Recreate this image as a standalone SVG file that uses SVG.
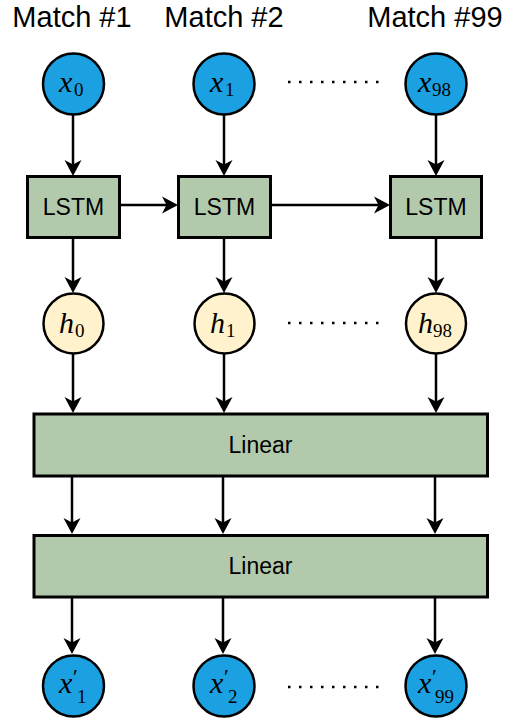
<svg xmlns="http://www.w3.org/2000/svg" width="507" height="722" viewBox="0 0 507 722">
  <style>
    .title { font-family: "Liberation Sans", Arial, sans-serif; font-size: 29px; fill: #000; text-anchor: middle; }
    .lbl { font-family: "Liberation Sans", Arial, sans-serif; font-size: 23px; fill: #000; text-anchor: middle; }
    .mv { font-family: "Liberation Serif", "Times New Roman", serif; font-size: 30px; font-style: italic; fill: #000; }
    .ms { font-family: "Liberation Serif", "Times New Roman", serif; font-size: 19px; fill: #000; }
    .pr { font-family: "Liberation Serif", "Times New Roman", serif; font-size: 22px; fill: #000; }
    .inp { fill: #1ba1e2; stroke: #000; stroke-width: 2.5; }
    .hid { fill: #fff2cc; stroke: #000; stroke-width: 2.5; }
    .box { fill: #b2caab; stroke: #000; stroke-width: 3; }
    .edge { stroke: #000; stroke-width: 2.5; fill: none; marker-end: url(#arrow); }
    .dots { stroke: #000; stroke-width: 2.5; stroke-dasharray: 2.5 8.5; fill: none; }
  </style>
  <defs>
    <marker id="arrow" markerUnits="userSpaceOnUse" viewBox="-17 -9 18 18" markerWidth="18" markerHeight="18" refX="-8" refY="0" orient="auto">
      <path d="M0,0 L-16,-8.5 L-11.5,0 L-16,8.5 Z" fill="#000"/>
    </marker>
  </defs>

  <rect width="507" height="722" fill="#fff"/>

  <!-- column headings -->
  <text class="title" x="72" y="27">Match #1</text>
  <text class="title" x="224" y="27">Match #2</text>
  <text class="title" x="435" y="27">Match #99</text>

  <!-- connectors -->
  <g id="connectors">
    <line class="edge" x1="73" y1="115" x2="73" y2="168"/>
    <line class="edge" x1="224" y1="115" x2="224" y2="168"/>
    <line class="edge" x1="436" y1="115" x2="436" y2="168"/>
    <line class="edge" x1="120" y1="205" x2="170" y2="205"/>
    <line class="edge" x1="271" y1="205" x2="382" y2="205"/>
    <line class="edge" x1="73" y1="238" x2="73" y2="285"/>
    <line class="edge" x1="224" y1="238" x2="224" y2="285"/>
    <line class="edge" x1="436" y1="238" x2="436" y2="285"/>
    <line class="edge" x1="73" y1="354" x2="73" y2="405"/>
    <line class="edge" x1="224" y1="354" x2="224" y2="405"/>
    <line class="edge" x1="436" y1="354" x2="436" y2="405"/>
    <line class="edge" x1="72" y1="477" x2="72" y2="526"/>
    <line class="edge" x1="223" y1="477" x2="223" y2="526"/>
    <line class="edge" x1="435" y1="477" x2="435" y2="526"/>
    <line class="edge" x1="72" y1="598" x2="72" y2="646"/>
    <line class="edge" x1="223" y1="598" x2="223" y2="646"/>
    <line class="edge" x1="435" y1="598" x2="435" y2="646"/>
  </g>

  <!-- ellipsis dots -->
  <line class="dots" x1="288" y1="82" x2="379" y2="82"/>
  <line class="dots" x1="288" y1="323" x2="379" y2="323"/>
  <line class="dots" x1="288" y1="687" x2="379" y2="687"/>

  <!-- inputs -->
  <g id="x0">
    <circle class="inp" cx="73.5" cy="84" r="30.5"/>
    <text class="mv" x="59" y="92">x</text><text class="ms" x="74" y="96">0</text>
  </g>
  <g id="x1">
    <circle class="inp" cx="224" cy="84" r="30.5"/>
    <text class="mv" x="210" y="92">x</text><text class="ms" x="225" y="96">1</text>
  </g>
  <g id="x98">
    <circle class="inp" cx="436" cy="84" r="30.5"/>
    <text class="mv" x="418" y="92">x</text><text class="ms" x="432" y="96">98</text>
  </g>

  <!-- LSTM cells -->
  <g id="lstm0">
    <rect class="box" x="27.5" y="176.5" width="92" height="61"/>
    <text class="lbl" x="73.5" y="215">LSTM</text>
  </g>
  <g id="lstm1">
    <rect class="box" x="178.5" y="176.5" width="92" height="61"/>
    <text class="lbl" x="224.5" y="215">LSTM</text>
  </g>
  <g id="lstm98">
    <rect class="box" x="390.5" y="176.5" width="91" height="61"/>
    <text class="lbl" x="436" y="215">LSTM</text>
  </g>

  <!-- hidden states -->
  <g id="h0">
    <circle class="hid" cx="73.5" cy="323.5" r="30"/>
    <text class="mv" x="59" y="333">h</text><text class="ms" x="75" y="337">0</text>
  </g>
  <g id="h1">
    <circle class="hid" cx="224.5" cy="323.5" r="30"/>
    <text class="mv" x="210" y="333">h</text><text class="ms" x="226" y="337">1</text>
  </g>
  <g id="h98">
    <circle class="hid" cx="436" cy="323.5" r="30"/>
    <text class="mv" x="418" y="333">h</text><text class="ms" x="433" y="337">98</text>
  </g>

  <!-- linear layers -->
  <g id="linear1">
    <rect class="box" x="34" y="414" width="453.5" height="62"/>
    <text class="lbl" x="260.5" y="453">Linear</text>
  </g>
  <g id="linear2">
    <rect class="box" x="34" y="535.5" width="453.5" height="61.5"/>
    <text class="lbl" x="260.5" y="574">Linear</text>
  </g>

  <!-- outputs -->
  <g id="xp1">
    <circle class="inp" cx="73.5" cy="686" r="30.5"/>
    <text class="mv" x="59" y="693">x</text><text class="pr" x="73" y="684">′</text><text class="ms" x="77" y="703">1</text>
  </g>
  <g id="xp2">
    <circle class="inp" cx="224" cy="686" r="30.5"/>
    <text class="mv" x="210" y="693">x</text><text class="pr" x="224" y="684">′</text><text class="ms" x="228" y="703">2</text>
  </g>
  <g id="xp99">
    <circle class="inp" cx="436" cy="686" r="30.5"/>
    <text class="mv" x="418" y="693">x</text><text class="pr" x="432" y="684">′</text><text class="ms" x="435" y="703">99</text>
  </g>
</svg>
